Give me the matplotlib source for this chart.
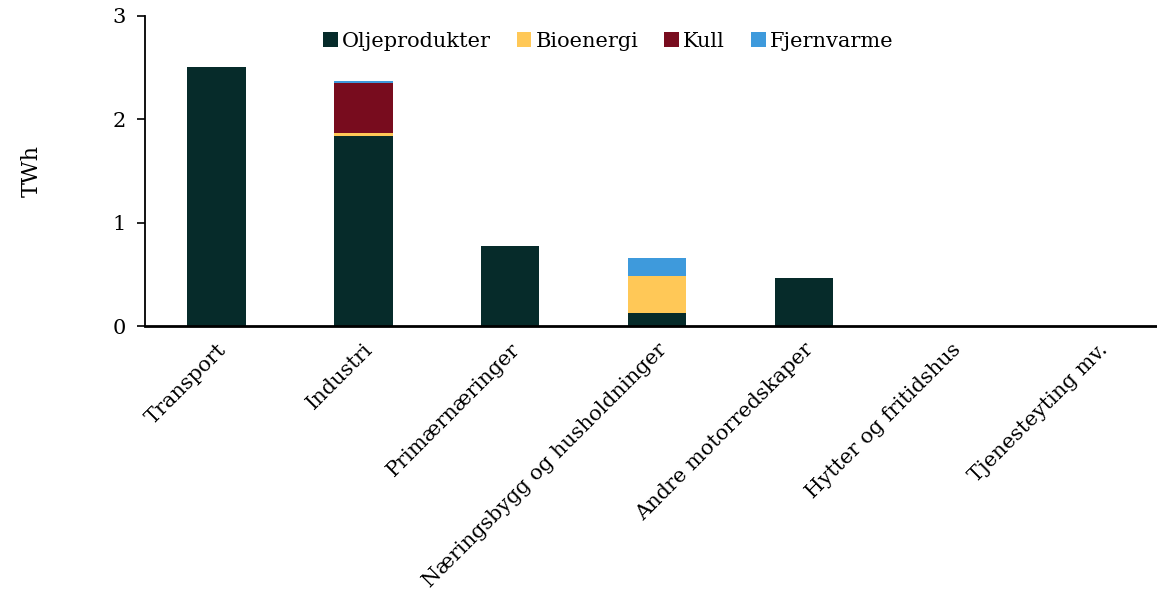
import matplotlib.pyplot as plt
import numpy as np

plt.rcParams['font.family'] = ['DejaVu Serif']

categories = ["Transport", "Industri", "Primærnæringer", "Næringsbygg og husholdninger",
              "Andre motorredskaper", "Hytter og fritidshus", "Tjenesteyting mv."]
oljeprodukter = [2.51, 1.84, 0.775, 0.13, 0.465, 0.0, 0.0]
bioenergi = [0.0, 0.03, 0.0, 0.355, 0.0, 0.004, 0.0]
kull = [0.0, 0.48, 0.0, 0.0, 0.0, 0.0, 0.0]
fjernvarme = [0.0, 0.02, 0.0, 0.175, 0.0, 0.0, 0.0]

series = [("Oljeprodukter", oljeprodukter, "#062b2a"),
          ("Bioenergi", bioenergi, "#ffc857"),
          ("Kull", kull, "#780c1e"),
          ("Fjernvarme", fjernvarme, "#3e9adc")]

fig = plt.figure(figsize=(11.57, 5.92), dpi=100)
ax = fig.add_axes([0.1253, 0.449, 0.88, 0.524])

x = np.arange(len(categories))
bottom = np.zeros(len(categories))
for name, vals, col in series:
    vals = np.array(vals)
    ax.bar(x, vals, 0.4, bottom=bottom, color=col, label=name)
    bottom += vals

ax.set_xlim(-0.485, 6.445)
ax.set_ylim(0, 3)
ax.set_yticks([0, 1, 2, 3])
ax.set_yticklabels(["0", "1", "2", "3"], fontsize=15)
ax.set_xticks(x)
ax.set_xticklabels(categories, rotation=45, ha="right", rotation_mode="anchor", fontsize=15)
ax.tick_params(axis="x", length=0, pad=10)
ax.tick_params(axis="y", length=6, width=1.2, direction="out", pad=8)
for s in ["top", "right"]:
    ax.spines[s].set_visible(False)
ax.spines["left"].set_linewidth(1.3)
ax.spines["bottom"].set_linewidth(2)
ax.set_ylabel("TWh", fontsize=16, labelpad=50)

ax.legend(loc="upper center", bbox_to_anchor=(0.455, 1.01), ncol=4, frameon=False,
          fontsize=15, handlelength=0.7, handleheight=0.7, handletextpad=0.2, columnspacing=1.25)

fig.savefig("out.png", dpi=100)
